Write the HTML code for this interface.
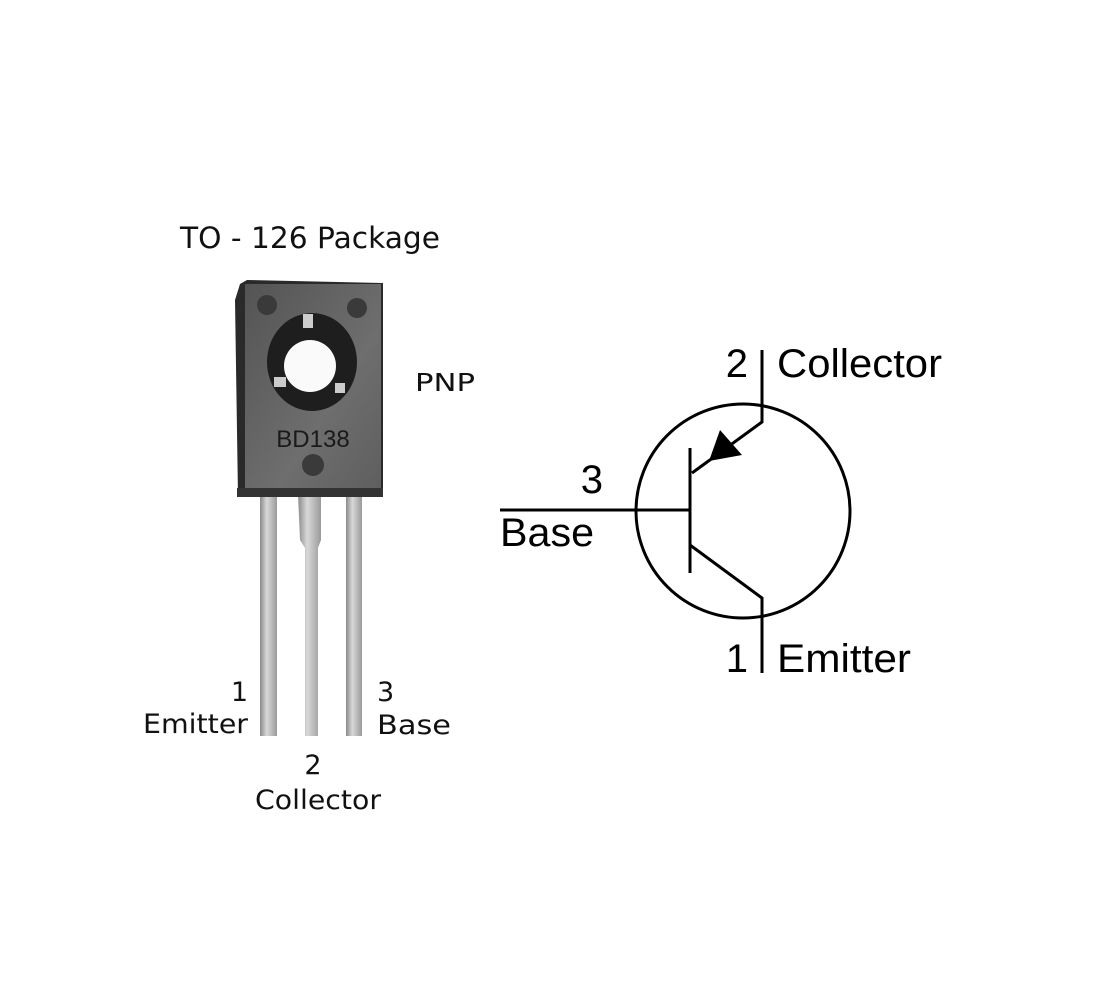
<!DOCTYPE html>
<html><head><style>
body{margin:0;background:#fff;}
svg{display:block;}
</style></head><body>
<svg width="1100" height="996" viewBox="0 0 1100 996" xmlns="http://www.w3.org/2000/svg">
<defs>
<linearGradient id="lead" x1="0" x2="1" y1="0" y2="0">
<stop offset="0" stop-color="#8a8a8a"/><stop offset="0.4" stop-color="#d8d8d8"/><stop offset="1" stop-color="#9a9a9a"/>
</linearGradient>
<linearGradient id="face" x1="0" x2="1" y1="0" y2="1">
<stop offset="0" stop-color="#545454"/><stop offset="0.6" stop-color="#6e6e6e"/><stop offset="1" stop-color="#5e5e5e"/>
</linearGradient>
</defs>
<text x="310" y="248" font-family="'DejaVu Sans','Liberation Sans',sans-serif" font-size="29" text-anchor="middle" fill="#111" textLength="260" lengthAdjust="spacingAndGlyphs">TO - 126 Package</text>
<!-- leads -->
<rect x="260" y="494" width="17" height="242" fill="url(#lead)"/>
<path d="M298 494 H321 V540 L318 548 V736 H305 V548 L300 540 Z" fill="url(#lead)"/>
<rect x="346" y="494" width="16" height="242" fill="url(#lead)"/>
<!-- body -->
<path d="M240 284 L247 280 L383 283 L383 497 L238 497 L235 300 Z" fill="#2a2a2a"/>
<rect x="245" y="284" width="136" height="210" fill="url(#face)"/>
<rect x="237" y="488" width="146" height="9" fill="#333"/>
<circle cx="267" cy="305" r="10" fill="#3a3a3a"/>
<circle cx="357" cy="308" r="10" fill="#3a3a3a"/>
<circle cx="313" cy="465" r="11" fill="#3a3a3a"/>
<ellipse cx="312" cy="362" rx="45" ry="49" fill="#1e1e1e"/>
<circle cx="310" cy="366" r="26" fill="#fafafa"/>
<rect x="303" y="314" width="10" height="14" fill="#ccc"/>
<rect x="274" y="377" width="12" height="10" fill="#ccc"/>
<rect x="335" y="383" width="10" height="10" fill="#ccc"/>
<text x="313" y="447" font-family="'Liberation Sans',sans-serif" font-size="24" text-anchor="middle" fill="#1a1a1a">BD138</text>
<text x="445" y="391" font-family="'DejaVu Sans','Liberation Sans',sans-serif" font-size="25" text-anchor="middle" fill="#111" textLength="60" lengthAdjust="spacingAndGlyphs">PNP</text>
<g font-family="'DejaVu Sans','Liberation Sans',sans-serif" font-size="27" fill="#111">
<text x="248" y="701" text-anchor="end">1</text>
<text x="248" y="733" text-anchor="end" textLength="105" lengthAdjust="spacingAndGlyphs">Emitter</text>
<text x="377" y="701">3</text>
<text x="377" y="734" textLength="74" lengthAdjust="spacingAndGlyphs">Base</text>
<text x="313" y="774" text-anchor="middle">2</text>
<text x="255" y="809" textLength="126" lengthAdjust="spacingAndGlyphs">Collector</text>
</g>
<!-- symbol -->
<g stroke="#000" stroke-width="3" fill="none">
<circle cx="743" cy="511" r="107"/>
<polyline points="762,350 762,422 692,473"/>
<line x1="690" y1="448" x2="690" y2="573"/>
<line x1="500" y1="510" x2="690" y2="510"/>
<polyline points="690,545 762,598 762,673"/>
</g>
<polygon points="709,461 720,430 742,455" fill="#000"/>
<g font-family="'Liberation Sans',sans-serif" font-size="40" fill="#000">
<text x="748" y="377" text-anchor="end">2</text>
<text x="777" y="377" textLength="165" lengthAdjust="spacingAndGlyphs">Collector</text>
<text x="748" y="672" text-anchor="end">1</text>
<text x="777" y="672" textLength="134" lengthAdjust="spacingAndGlyphs">Emitter</text>
<text x="603" y="493" text-anchor="end">3</text>
<text x="500" y="546" textLength="94" lengthAdjust="spacingAndGlyphs">Base</text>
</g>
</svg>
</body></html>
